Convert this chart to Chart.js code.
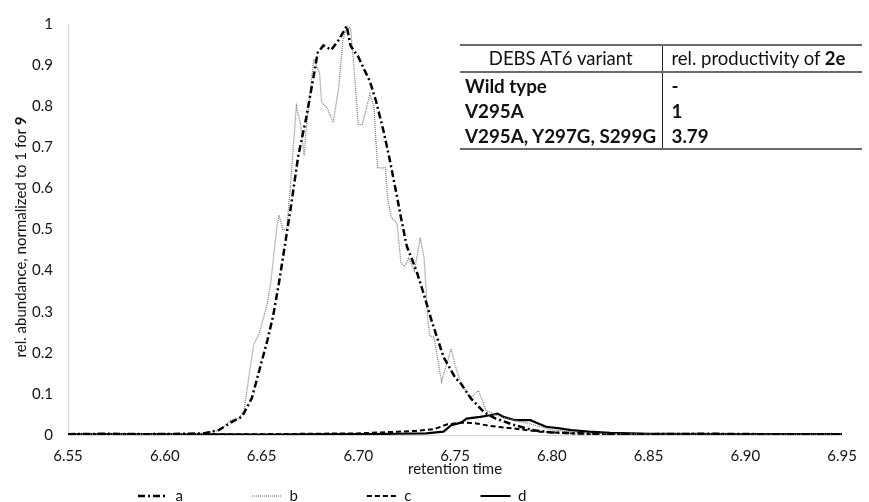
<!DOCTYPE html>
<html>
<head>
<meta charset="utf-8">
<script src="https://cdn.jsdelivr.net/npm/chart.js@4.4.1/dist/chart.umd.min.js"></script>
<style>
  html, body { margin: 0; padding: 0; background: #fff; }
  #wrap { position: relative; width: 869px; height: 502px; overflow: hidden; }
  #c { position: absolute; left: 0; top: 0; }
  #tbl {
    position: absolute; left: 460px; top: 44px; width: 402px;
    table-layout: fixed;
    border-collapse: collapse; font-family: Lato, "Open Sans", sans-serif;
    color: #111;
    border-top: 2px solid #6a6a6a; border-bottom: 2px solid #6a6a6a;
  }
  #tbl td { padding: 0 0 0 5px; height: 25px; line-height: 25px; white-space: nowrap; overflow: visible; font-weight: bold; font-size: 18.8px; }
  #tbl td.l { border-right: 1.5px solid #222; }
  #tbl td.r { padding-left: 9px; }
  #tbl tr.h td { height: 25px; border-bottom: 2px solid #6a6a6a; font-weight: normal; font-size: 18.5px; }
  #tbl tr.h td.l { text-align: center; padding-left: 0; }
</style>
</head>
<body>
<div id="wrap">
  <canvas id="c" width="869" height="502"></canvas>
  <table id="tbl">
    <colgroup><col style="width:202px"><col style="width:200px"></colgroup>
    <tr class="h"><td class="l">DEBS AT6 variant</td><td class="r">rel. productivity of <b>2e</b></td></tr>
    <tr><td class="l">Wild type</td><td class="r">-</td></tr>
    <tr><td class="l">V295A</td><td class="r">1</td></tr>
    <tr><td class="l">V295A, Y297G, S299G</td><td class="r">3.79</td></tr>
  </table>
</div>
<script>
// ---- data ----
const seriesNames = ['a', 'b', 'c', 'd'];
const xTicks = [6.55, 6.60, 6.65, 6.70, 6.75, 6.80, 6.85, 6.90, 6.95];
const yTicks = [0, 0.1, 0.2, 0.3, 0.4, 0.5, 0.6, 0.7, 0.8, 0.9, 1];

const aTime = [6.55, 6.57, 6.59, 6.61, 6.62, 6.628, 6.634, 6.64, 6.645, 6.649, 6.653, 6.656, 6.659, 6.662, 6.665, 6.669, 6.673, 6.677, 6.679, 6.682, 6.686, 6.69, 6.694, 6.696, 6.700, 6.703, 6.706, 6.709, 6.713, 6.716, 6.720, 6.722, 6.725, 6.730, 6.734, 6.738, 6.744, 6.750, 6.753, 6.758, 6.765, 6.771, 6.780, 6.790, 6.800, 6.820, 6.850, 6.880, 6.910, 6.950];
const aValue = [0.002, 0.003, 0.002, 0.003, 0.004, 0.012, 0.03, 0.045, 0.09, 0.16, 0.23, 0.29, 0.37, 0.46, 0.55, 0.68, 0.77, 0.875, 0.93, 0.948, 0.937, 0.962, 0.995, 0.947, 0.92, 0.89, 0.86, 0.815, 0.74, 0.675, 0.58, 0.53, 0.46, 0.40, 0.34, 0.276, 0.19, 0.14, 0.125, 0.09, 0.055, 0.04, 0.025, 0.012, 0.006, 0.003, 0.002, 0.003, 0.002, 0.002];

const bTime = [6.55, 6.58, 6.60, 6.62, 6.627, 6.630, 6.634, 6.638, 6.641, 6.644, 6.646, 6.649, 6.653, 6.655, 6.658, 6.659, 6.661, 6.663, 6.665, 6.668, 6.670, 6.672, 6.673, 6.677, 6.680, 6.681, 6.684, 6.687, 6.690, 6.692, 6.694, 6.696, 6.698, 6.700, 6.702, 6.705, 6.706, 6.708, 6.710, 6.714, 6.715, 6.717, 6.720, 6.722, 6.724, 6.726, 6.729, 6.732, 6.734, 6.736, 6.737, 6.739, 6.743, 6.748, 6.750, 6.753, 6.758, 6.762, 6.766, 6.773, 6.781, 6.788, 6.800, 6.820, 6.850, 6.900, 6.950];
const bValue = [0.002, 0.002, 0.002, 0.004, 0.01, 0.017, 0.036, 0.04, 0.06, 0.16, 0.22, 0.25, 0.32, 0.38, 0.51, 0.535, 0.50, 0.50, 0.61, 0.80, 0.76, 0.68, 0.74, 0.915, 0.88, 0.81, 0.795, 0.76, 0.85, 0.96, 0.995, 0.99, 0.88, 0.755, 0.755, 0.81, 0.83, 0.80, 0.65, 0.65, 0.58, 0.53, 0.515, 0.42, 0.41, 0.43, 0.40, 0.48, 0.43, 0.275, 0.24, 0.24, 0.13, 0.21, 0.17, 0.125, 0.09, 0.108, 0.06, 0.045, 0.035, 0.028, 0.012, 0.004, 0.002, 0.002, 0.002];

const cTime = [6.55, 6.60, 6.65, 6.70, 6.71, 6.72, 6.73, 6.739, 6.746, 6.753, 6.760, 6.768, 6.780, 6.794, 6.810, 6.830, 6.900, 6.950];
const cValue = [0.002, 0.002, 0.002, 0.004, 0.006, 0.008, 0.01, 0.014, 0.026, 0.03, 0.029, 0.022, 0.016, 0.008, 0.004, 0.002, 0.002, 0.002];

const dTime = [6.55, 6.60, 6.65, 6.70, 6.72, 6.735, 6.744, 6.748, 6.753, 6.756, 6.763, 6.768, 6.772, 6.775, 6.781, 6.789, 6.792, 6.797, 6.804, 6.810, 6.819, 6.830, 6.850, 6.900, 6.950];
const dValue = [0.002, 0.002, 0.001, 0.002, 0.003, 0.004, 0.008, 0.024, 0.03, 0.04, 0.044, 0.048, 0.052, 0.044, 0.036, 0.036, 0.03, 0.02, 0.016, 0.012, 0.008, 0.005, 0.003, 0.002, 0.002];

const xTitle = 'retention time';
const yTitleMain = 'rel. abundance, normalized to 1 for ';
const yTitleBold = '9';

// ---- chart ----
const FONT = 'Lato';
const FS = 15;
const TXT = '#141414';
const toXY = (ts, vs) => ts.map((t, i) => ({ x: t, y: vs[i] }));

const LEG_X = 138, LEG_CY = 496;
const legendShift = {
  id: 'legendShift',
  afterLayout(chart) {
    const lg = chart.legend;
    if (!lg) return;
    const P = lg.options.labels.padding;
    const fs = lg.options.labels.font.size;
    lg.left = LEG_X - P;
    lg.top = LEG_CY - fs / 2 - P;
  }
};

const yTitlePlugin = {
  id: 'yTitlePlugin',
  afterDraw(chart) {
    const ctx = chart.ctx;
    ctx.save();
    ctx.translate(21, 237);
    ctx.rotate(-Math.PI / 2);
    ctx.fillStyle = TXT;
    ctx.textBaseline = 'middle';
    ctx.textAlign = 'left';
    ctx.font = FS + 'px ' + FONT;
    const w1 = ctx.measureText(yTitleMain).width;
    ctx.font = 'bold ' + FS + 'px ' + FONT;
    const w2 = ctx.measureText(yTitleBold).width;
    const start = -(w1 + w2) / 2;
    ctx.font = FS + 'px ' + FONT;
    ctx.fillText(yTitleMain, start, 0);
    ctx.font = 'bold ' + FS + 'px ' + FONT;
    ctx.fillText(yTitleBold, start + w1, 0);
    ctx.restore();
  }
};

const styles = [
  { borderColor: '#000', borderWidth: 2.5, borderDash: [7, 3, 2, 3] },
  { borderColor: '#808080', borderWidth: 1.3, borderDash: [1, 1] },
  { borderColor: '#000', borderWidth: 2, borderDash: [5, 3] },
  { borderColor: '#000', borderWidth: 2.2, borderDash: [] }
];
const series = [toXY(aTime, aValue), toXY(bTime, bValue), toXY(cTime, cValue), toXY(dTime, dValue)];

new Chart(document.getElementById('c'), {
  type: 'line',
  data: {
    datasets: seriesNames.map((n, i) => Object.assign({
      label: n,
      data: series[i],
      pointRadius: 0,
      pointStyle: 'line',
      tension: 0,
      fill: false
    }, styles[i]))
  },
  options: {
    responsive: false,
    animation: false,
    devicePixelRatio: 1,
    layout: { padding: { left: 0, right: 15, top: 18, bottom: 0 } },
    scales: {
      x: {
        type: 'linear',
        min: 6.55, max: 6.95,
        afterBuildTicks: s => { s.ticks = xTicks.map(v => ({ value: v })); },
        afterFit: s => { s.height = 43; },
        grid: { display: false, drawTicks: false },
        border: { display: true, color: '#d4d4d4', width: 1 },
        ticks: {
          padding: 12, color: TXT, font: { family: FONT, size: FS },
          maxRotation: 0, autoSkip: false,
          callback: v => Number(v).toFixed(2)
        },
        title: { display: true, text: xTitle, color: TXT, font: { family: FONT, size: FS }, padding: { top: 0, bottom: 0 } }
      },
      y: {
        min: 0, max: 1,
        afterBuildTicks: s => { s.ticks = yTicks.map(v => ({ value: v })); },
        afterFit: s => { s.width = 68; },
        grid: { display: false, drawTicks: false },
        border: { display: true, color: '#d4d4d4', width: 1 },
        ticks: {
          padding: 15, color: TXT, font: { family: FONT, size: FS },
          callback: v => String(Number(v.toFixed(1)))
        }
      }
    },
    plugins: {
      tooltip: { enabled: false },
      legend: {
        display: true,
        position: 'bottom',
        align: 'start',
        maxHeight: 24,
        labels: {
          usePointStyle: true,
          pointStyle: 'line',
          pointStyleWidth: 30,
          padding: 69,
          color: TXT,
          font: { family: FONT, size: FS },
          generateLabels: chart => chart.data.datasets.map((ds, i) => ({
            text: ds.label,
            fillStyle: ds.borderColor,
            strokeStyle: ds.borderColor,
            lineWidth: ds.borderWidth,
            lineDash: ds.borderDash,
            lineCap: 'butt',
            pointStyle: 'line',
            fontColor: TXT,
            hidden: false,
            datasetIndex: i
          }))
        }
      }
    }
  },
  plugins: [legendShift, yTitlePlugin]
});
</script>
</body>
</html>
